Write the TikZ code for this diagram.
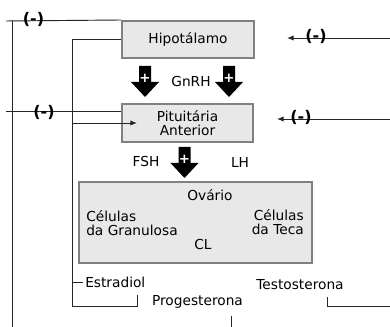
\documentclass[tikz,border=0pt]{standalone}
\usepackage{fontspec}
\setmainfont{DejaVu Sans}
\usetikzlibrary{arrows.meta}

\tikzset{
  caixa/.style={draw=black!50, fill=black!9, line width=1.5pt, inner sep=0pt},
  rotulo/.style={inner sep=0pt, font=\fontsize{10.3}{10.5}\selectfont},
  sinal/.style={inner sep=0pt, font=\bfseries\fontsize{12}{12}\selectfont},
  linha/.style={line width=0.7pt, black!85},
  seta/.style={linha, -{Latex[length=5pt,width=4pt]}},
  bloco/.pic={
    \fill (-6,0) -- (6,0) -- (6,-16) -- (14,-16) -- (0,-31) -- (-14,-16) -- (-6,-16) -- cycle;
    \node[text=white, inner sep=0pt, font=\bfseries\fontsize{10}{10}\selectfont] (-mais) at (0,-12.5) {+};
  }
}

\begin{document}
\begin{tikzpicture}[x=0.75pt,y=0.75pt,yscale=-1,xscale=1]
\useasboundingbox (0,0) rectangle (390,327);

%Boxes
\node[caixa, minimum width=99pt, minimum height=27.75pt] (hipo) at (188,39.5) {};
\node[rotulo] (hipotxt) at (hipo.center) {Hipotálamo};
\node[caixa, minimum width=98.25pt, minimum height=28.5pt] (pit) at (187.5,123) {};
\node[rotulo, align=center] (pittxt) at (pit.center) {Pituitária\\Anterior};
\node[caixa, minimum width=174.75pt, minimum height=60.75pt] (ovario) at (195.5,222.5) {};

% Text Node
\node[rotulo] (ovtxt) at (210,195) {Ovário};
\node[rotulo, align=left, anchor=west] (gran) at (86,223) {Células\\da Granulosa};
\node[rotulo, align=right, anchor=east] (teca) at (304,222) {Células\\da Teca};
\node[rotulo] (cl) at (203,245) {CL};
\node[rotulo] (gnrh) at (191,82) {GnRH};
\node[rotulo] (fsh) at (146,162) {FSH};
\node[rotulo] (lh) at (240,162) {LH};
\node[rotulo, anchor=west] (estr) at (85,282) {Estradiol};
\node[rotulo] (test) at (300,285) {Testosterona};
\node[rotulo] (prog) at (197.5,302) {Progesterona};

%Block arrows
\pic (gn1) at (145,66) {bloco};
\pic (gn2) at (229,66) {bloco};
\pic (fs1) at (184.5,147) {bloco};

%Feedback lines
\coordinate (fbtop) at (6,21);
\coordinate (esqtop) at (12,21);
\coordinate (esqbase) at (12,327);
\coordinate (fbmid) at (6,111);
\coordinate (cant) at (72,306);
\coordinate (cest) at (137,295);
\coordinate (ctest) at (327,297);
\coordinate (tend) at (390,306);
\coordinate (prog1) at (231,316);
\coordinate (prog2) at (231,327);
\coordinate (rtop) at (390,38);
\coordinate (rtopend) at (287,38);
\coordinate (rmid) at (390,119);
\coordinate (rmidend) at (277,119);

\draw[linha] (fbtop) -- (hipo.north west);
\draw[linha] (esqtop) -- (esqbase);
\draw[linha] (fbmid) -- (fbmid -| pit.west);
\draw[linha] (hipo.west) -| (cant) -| (cest);
\draw[seta] (cant |- pit.west) -- ([xshift=12pt]pit.west);
\draw[linha] (cant |- estr.west) -- ([xshift=-1.5pt]estr.west);
\draw[linha] (ctest) |- (tend);
\draw[linha] (prog1) -- (prog2);
\draw[seta] (rtop) -- (rtopend);
\draw[seta] (rmid) -- (rmidend);

% Signs
\node[sinal] (neg1) at (33.5,19) {(-)};
\node[sinal] (neg2) at (44,112) {(-)};
\node[sinal] (neg3) at (316,36) {(-)};
\node[sinal] (neg4) at (301,117) {(-)};
\end{tikzpicture}
\end{document}
